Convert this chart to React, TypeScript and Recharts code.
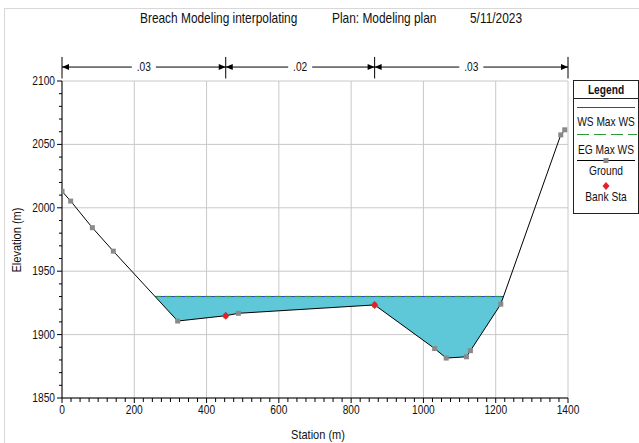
import { ComposedChart, Line, Area, Scatter, XAxis, YAxis, CartesianGrid, ReferenceLine } from 'recharts'

// cross section
const groundStations = [0, 24, 84, 142, 320, 453, 488, 865, 1031, 1063, 1119, 1130, 1214, 1380, 1391]
const groundElevations = [2013, 2005.3, 1984.3, 1965.8, 1910.7, 1914.9, 1916.8, 1923.4, 1889, 1881.5, 1882.5, 1887.3, 1924, 2057.5, 2061.5]
const bankStations = [453, 865]
const wsMaxElevation = 1930
const egMaxElevation = 1930.15

// Manning's n across the section
const nBreaks = [0, 453, 865, 1400]
const nValues = ['.03', '.02', '.03']

const xLabels = [0, 200, 400, 600, 800, 1000, 1200, 1400]
const yLabels = [1850, 1900, 1950, 2000, 2050, 2100]
const xMinorStep = 25
const yMinorStep = 10

const FONT = '"Liberation Sans", Arial, sans-serif'
const WATER = '#5fc8d8'
const GRID = '#c8c8c8'

const range = (a: number, b: number, step: number) => {
  const out: number[] = []
  for (let v = a; v <= b; v += step) out.push(v)
  return out
}
const xTicks = range(xLabels[0], xLabels[xLabels.length - 1], xMinorStep)
const yTicks = range(yLabels[0], yLabels[yLabels.length - 1], yMinorStep)

const ground = groundStations.map((s, i) => ({ station: s, elev: groundElevations[i] }))
const banks = bankStations.map((s) => ({ station: s, elev: groundElevations[groundStations.indexOf(s)] }))

// water between ground and the WS elevation
const water: { station: number; water: number[] }[] = []
ground.forEach((p, i) => {
  if (i > 0) {
    const q = ground[i - 1]
    if ((q.elev - wsMaxElevation) * (p.elev - wsMaxElevation) < 0) {
      const t = (q.elev - wsMaxElevation) / (q.elev - p.elev)
      water.push({ station: q.station + t * (p.station - q.station), water: [wsMaxElevation, wsMaxElevation] })
    }
  }
  if (p.elev < wsMaxElevation) water.push({ station: p.station, water: [p.elev, wsMaxElevation] })
})
const wsLine = [water[0], water[water.length - 1]].map((w) => ({ station: w.station, elev: wsMaxElevation }))
const egLine = wsLine.map((w) => ({ station: w.station, elev: egMaxElevation }))

function T({ x, y, size = 12, anchor = 'start', sx = 0.85, bold = false, rotate = 0, children }: any) {
  return (
    <text
      transform={`translate(${x},${y}) rotate(${rotate}) scale(${sx},1)`}
      textAnchor={anchor}
      fontSize={size}
      fontFamily={FONT}
      fontWeight={bold ? 'bold' : 'normal'}
      fill="#111"
    >
      {children}
    </text>
  )
}

const XTick = ({ x, y, payload }: any) => {
  const major = payload.value % 200 === 0
  return (
    <g>
      <line x1={x} x2={x} y1={y} y2={y + (major ? 5 : 4)} stroke="#000" />
      {major && <T x={x} y={y + 16} anchor="middle">{payload.value}</T>}
    </g>
  )
}

const YTick = ({ x, y, payload }: any) => {
  const major = payload.value % 50 === 0
  return (
    <g>
      <line x1={x - (major ? 5 : 3)} x2={x} y1={y} y2={y} stroke="#000" />
      {major && <T x={x - 7} y={y + 4} anchor="end">{payload.value}</T>}
    </g>
  )
}

const Square = ({ cx, cy }: any) => <rect x={cx - 2.5} y={cy - 2.5} width={5} height={5} fill="#8a8a8a" />
const Diamond = ({ cx, cy }: any) => (
  <polygon points={`${cx},${cy - 4} ${cx + 3.5},${cy} ${cx},${cy + 4} ${cx - 3.5},${cy}`} fill="#e3202a" />
)

const nSpan = (label: string) => (p: any) => {
  const { x1, x2, y1 } = p
  const mid = (x1 + x2) / 2
  return (
    <g>
      <line x1={x1} x2={mid - 12} y1={y1} y2={y1} stroke="#000" />
      <line x1={mid + 12} x2={x2} y1={y1} y2={y1} stroke="#000" />
      <polygon points={`${x1},${y1} ${x1 + 7},${y1 - 3} ${x1 + 7},${y1 + 3}`} fill="#000" />
      <polygon points={`${x2},${y1} ${x2 - 7},${y1 - 3} ${x2 - 7},${y1 + 3}`} fill="#000" />
      <T x={mid} y={y1 + 4} anchor="middle" size={12}>{label}</T>
    </g>
  )
}

export default function App() {
  return (
    <div style={{ position: 'absolute', left: 0, top: 0, width: 639, height: 443, background: '#fff', overflow: 'hidden' }}>
      <div style={{ position: 'absolute', left: 4, top: 8, width: 700, height: 500, border: '1px solid #d8d8d8' }} />
      <div style={{ position: 'absolute', left: 0, top: 0 }}>
        <ComposedChart width={639} height={443} margin={{ top: 81, right: 71, bottom: 15, left: 0 }}>
          <CartesianGrid stroke={GRID} verticalValues={xLabels} horizontalValues={yLabels} />
          <XAxis
            dataKey="station"
            type="number"
            domain={[0, 1400]}
            ticks={xTicks}
            interval={0}
            allowDataOverflow
            height={30}
            tickSize={0}
            tickMargin={0}
            tickLine={false}
            tick={<XTick />}
            axisLine={{ stroke: '#000' }}
          />
          <YAxis
            type="number"
            domain={[1850, 2100]}
            ticks={yTicks}
            interval={0}
            allowDataOverflow
            width={62}
            tickSize={0}
            tickMargin={0}
            tickLine={false}
            tick={<YTick />}
            axisLine={{ stroke: '#000' }}
          />
          <Area data={water} dataKey="water" type="linear" fill={WATER} fillOpacity={1} stroke="none" isAnimationActive={false} />
          <Line data={wsLine} dataKey="elev" type="linear" stroke="#3040c0" strokeWidth={1} dot={false} isAnimationActive={false} />
          <Line data={egLine} dataKey="elev" type="linear" stroke="#2a9a3a" strokeWidth={1} strokeDasharray="6 4" dot={false} isAnimationActive={false} />
          <Line data={ground} dataKey="elev" type="linear" stroke="#000" strokeWidth={1} dot={<Square />} isAnimationActive={false} />
          <Scatter data={banks} dataKey="elev" shape={<Diamond />} isAnimationActive={false} />
          {nBreaks.map((s) => (
            <ReferenceLine key={`nb-${s}`} segment={[{ x: s, y: 2102 }, { x: s, y: 2119 }]} stroke="#000" ifOverflow="visible" />
          ))}
          {nValues.map((v, i) => (
            <ReferenceLine
              key={`nv-${i}`}
              segment={[{ x: nBreaks[i], y: 2111 }, { x: nBreaks[i + 1], y: 2111 }]}
              ifOverflow="visible"
              shape={nSpan(v)}
            />
          ))}
        </ComposedChart>
      </div>
      <svg width={639} height={443} style={{ position: 'absolute', left: 0, top: 0, pointerEvents: 'none' }}>
        <T x={140} y={23} size={14}>Breach Modeling interpolating</T>
        <T x={332} y={23} size={14}>Plan: Modeling plan</T>
        <T x={470} y={23} size={14}>5/11/2023</T>
        <T x={21} y={240} size={12} sx={0.92} rotate={-90} anchor="middle">Elevation (m)</T>
        <T x={318} y={439} size={12} sx={0.92} anchor="middle">Station (m)</T>
        <g transform="translate(573,80)">
          <rect x={0.5} y={0.5} width={65} height={133} fill="#fff" stroke="#222" />
          <line x1={0} x2={66} y1={18.5} y2={18.5} stroke="#222" />
          <T x={33} y={14} size={12} bold anchor="middle">Legend</T>
          <line x1={4} x2={62} y1={27.5} y2={27.5} stroke="#3040c0" />
          <T x={33} y={46} size={12} sx={0.85} anchor="middle">WS Max WS</T>
          <line x1={4} x2={64} y1={54.5} y2={54.5} stroke="#2a9a3a" strokeDasharray="12 5" />
          <T x={33} y={74} size={12} sx={0.85} anchor="middle">EG Max WS</T>
          <line x1={4} x2={62} y1={80.5} y2={80.5} stroke="#000" />
          <rect x={30.5} y={78} width={5} height={5} fill="#8a8a8a" />
          <T x={33} y={95} size={12} sx={0.85} anchor="middle">Ground</T>
          <polygon points="33,102 36.5,106 33,110 29.5,106" fill="#e3202a" />
          <T x={33} y={121} size={12} sx={0.85} anchor="middle">Bank Sta</T>
        </g>
      </svg>
    </div>
  )
}
